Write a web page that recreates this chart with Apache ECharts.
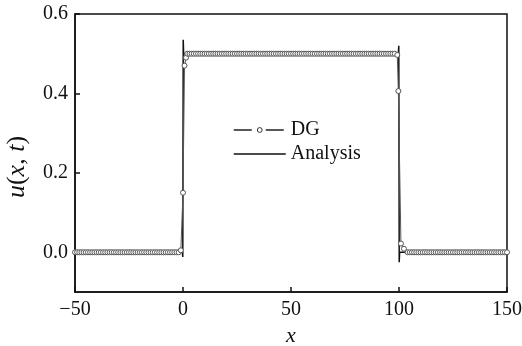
<!DOCTYPE html>
<html><head><meta charset="utf-8">
<script src="https://cdn.jsdelivr.net/npm/echarts@6/dist/echarts.min.js"></script>
<style>html,body{margin:0;padding:0;background:#fff}#c{width:522px;height:346px}</style>
</head><body><div id="c"></div>
<script>
// DG solution samples (x, u)
const dgLeftX = [];
for (let i = -50; i <= -2; i++) dgLeftX.push(i);
const dgJumpUpX = [-1, 0, 0.7, 1.4];
const dgJumpUpU = [0.005, 0.15, 0.47, 0.49];
const dgPlateauX = [];
for (let i = 2; i <= 98; i++) dgPlateauX.push(i);
const dgJumpDownX = [99.2, 99.7, 100.9, 102.3];
const dgJumpDownU = [0.497, 0.406, 0.022, 0.009];
const dgRightX = [];
for (let i = 104; i <= 150; i++) dgRightX.push(i);
const uLow = 0, uHigh = 0.5;

// Analysis solution (x, u)
const anaX = [-50, -0.3, -0.1, 0, 0.1, 0.3, 99.7, 99.9, 100, 100.1, 100.3, 150];
const anaU = [0, 0, -0.012, 0.25, 0.535, 0.5, 0.5, 0.52, 0.25, -0.025, 0, 0];

const xTicks = [-50, 0, 50, 100, 150];
const yTicks = [0.0, 0.2, 0.4, 0.6];

const dg = [];
dgLeftX.forEach(x => dg.push([x, uLow]));
dgJumpUpX.forEach((x, i) => dg.push([x, dgJumpUpU[i]]));
dgPlateauX.forEach(x => dg.push([x, uHigh]));
dgJumpDownX.forEach((x, i) => dg.push([x, dgJumpDownU[i]]));
dgRightX.forEach(x => dg.push([x, uLow]));
const ana = anaX.map((x, i) => [x, anaU[i]]);

const font = '"Liberation Serif", "Times New Roman", serif';
const ink = '#111';
const chart = echarts.init(document.getElementById('c'), null, {renderer: 'canvas'});
chart.setOption({
  animation: false,
  backgroundColor: '#fff',
  grid: {left: 75, right: 15, top: 14, bottom: 54, show: true, borderColor: ink, borderWidth: 1.5,
    outerBoundsMode: 'none', containLabel: false},
  legend: {
    orient: 'vertical', left: 228, top: 115, itemGap: 4, itemWidth: 52, itemHeight: 6,
    textStyle: {fontFamily: font, fontSize: 20, color: ink},
    data: [
      {name: 'DG', itemStyle: {color: '#fff', borderColor: '#333', borderWidth: 1},
        lineStyle: {type: [18, 14], width: 1.3, color: '#222'}},
      {name: 'Analysis', itemStyle: {opacity: 0}, lineStyle: {width: 1.5, color: ink}}
    ]
  },
  xAxis: {
    type: 'value', min: -50, max: 150, interval: 50,
    name: 'x', nameLocation: 'middle', nameGap: 28,
    nameTextStyle: {fontFamily: font, fontSize: 22, fontStyle: 'italic', color: ink},
    axisLine: {onZero: false, lineStyle: {color: ink, width: 1.5}},
    axisTick: {inside: true, length: 5, lineStyle: {color: ink, width: 1.5}},
    axisLabel: {fontFamily: font, fontSize: 20, color: ink, margin: 8,
      formatter: v => String(v).replace('-', '\u2212')},
    splitLine: {show: false}
  },
  yAxis: {
    type: 'value', min: -0.1, max: 0.6, interval: 0.1,
    name: '{i|u}({i|x}, {i|t})', nameLocation: 'middle', nameGap: 45, nameRotate: 90,
    nameTextStyle: {fontFamily: font, fontSize: 26, color: ink, padding: [0, 28, 0, 0],
      rich: {i: {fontFamily: font, fontSize: 26, fontStyle: 'italic', color: ink}}},
    axisLine: {onZero: false, lineStyle: {color: ink, width: 1.5}},
    axisTick: {inside: true, length: 5, lineStyle: {color: ink, width: 1.5}, customValues: yTicks},
    axisLabel: {fontFamily: font, fontSize: 20, color: ink, margin: 7, customValues: yTicks,
      formatter: v => v.toFixed(1)},
    splitLine: {show: false}
  },
  series: [
    {
      name: 'DG', type: 'line', data: dg, symbol: 'circle', symbolSize: 5, showSymbol: true,
      lineStyle: {color: '#555', width: 1},
      itemStyle: {color: '#fff', borderColor: '#555', borderWidth: 1},
      z: 3
    },
    {
      name: 'Analysis', type: 'line', data: ana, symbol: 'none',
      lineStyle: {color: ink, width: 1.5}, itemStyle: {color: ink}, z: 2
    }
  ]
});
</script></body></html>
